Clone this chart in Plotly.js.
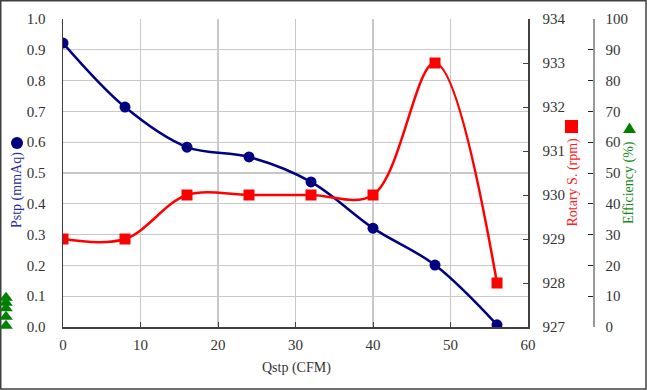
<!DOCTYPE html>
<html>
<head>
<meta charset="utf-8">
<script src="https://cdn.plot.ly/plotly-3.0.1.min.js"></script>
<style>html,body{margin:0;padding:0;background:#fff;}#chart{width:647px;height:390px;}</style>
</head>
<body>
<div id="chart"></div>
<script>
// Data
const qstp = [0, 8, 16, 24, 32, 40, 48, 56];
const pstp = [0.922, 0.714, 0.584, 0.552, 0.471, 0.321, 0.201, 0.007];
const rotary = [929, 929, 930, 930, 930, 930, 933, 928];
// stray efficiency markers drawn in the left margin (helper x axis in pixel units)
const effX = [6, 6, 6, 6, 6];
const efficiency = [9.5, 7.9, 6.1, 3.3, 0.4];

const xTitle = 'Qstp (CFM)';
const y1Title = 'Pstp (mmAq)';
const y2Title = 'Rotary S. (rpm)';
const y3Title = 'Efficiency (%)';

// layout geometry (pixels)
const W = 647, H = 390, L = 0, R = 54, T = 19, B = 63;
const PLOT_L = 63, PLOT_R = 528;
const PW = W - L - R, PH = H - T - B;
const px = v => (v - L) / PW;
const py = v => (H - B - v) / PH;

const serif = 'Liberation Serif';
const navy = '#000080', red = '#ff0000', green = '#008000';

const traces = [
  {x: qstp, y: pstp, type: 'scatter', mode: 'lines+markers', xaxis: 'x', yaxis: 'y',
   line: {color: navy, width: 2.5, shape: 'spline', smoothing: 1},
   marker: {color: navy, size: 11, symbol: 'circle'}},
  {x: qstp, y: rotary, type: 'scatter', mode: 'lines+markers', xaxis: 'x', yaxis: 'y2',
   line: {color: red, width: 2.5, shape: 'spline', smoothing: 1},
   marker: {color: red, size: 11, symbol: 'square'}},
  {x: effX, y: efficiency, type: 'scatter', mode: 'markers', xaxis: 'x3', yaxis: 'y3', cliponaxis: false,
   marker: {color: green, size: 12, symbol: 'triangle-up'}}
];

const tickFont = {family: serif, size: 15, color: '#333'};
const layout = {
  width: W, height: H,
  margin: {l: L, r: R, t: T, b: B, pad: 0},
  paper_bgcolor: '#fff', plot_bgcolor: 'rgba(0,0,0,0)',
  showlegend: false,
  font: {family: serif},
  xaxis: {domain: [px(PLOT_L), px(PLOT_R)], range: [0, 60], dtick: 10, tick0: 0,
    showgrid: true, gridcolor: '#c8c8c8', gridwidth: 1.3,
    showline: true, linecolor: '#404040', linewidth: 1.5,
    ticks: 'inside', ticklen: 5, tickcolor: '#404040',
    tickfont: tickFont, zeroline: false, ticklabelstandoff: 3},
  yaxis: {range: [0, 1], dtick: 0.1, tick0: 0, tickformat: '.1f',
    showgrid: true, gridcolor: '#c8c8c8', gridwidth: 1.3,
    showline: true, linecolor: '#404040', linewidth: 1.5,
    ticks: '', tickfont: tickFont, zeroline: false, ticklabelstandoff: 13},
  yaxis2: {overlaying: 'y', side: 'right', anchor: 'x', range: [927, 934], dtick: 1,
    showgrid: false, showline: true, linecolor: '#404040', linewidth: 1.5,
    ticks: 'inside', ticklen: 5, tickcolor: '#404040',
    tickfont: tickFont, zeroline: false, ticklabelstandoff: 10},
  xaxis3: {domain: [0, 1], range: [0, PW], visible: false, fixedrange: true},
  yaxis3: {anchor: 'x3', side: 'right', domain: [0, 1], range: [0, 100], dtick: 10,
    showgrid: false, showline: true, linecolor: '#999', linewidth: 1.5,
    ticks: 'inside', ticklen: 5, tickcolor: '#222',
    tickfont: tickFont, zeroline: false, ticklabelstandoff: 8},
  annotations: [
    {text: xTitle, xref: 'paper', yref: 'paper', x: px(296.5), y: py(368), showarrow: false,
     font: {family: serif, size: 14, color: '#333'}, xanchor: 'center', yanchor: 'middle'},
    {text: y1Title, xref: 'paper', yref: 'paper', x: px(17), y: py(190), showarrow: false, textangle: -90,
     font: {family: serif, size: 14, color: '#2b2b9b'}, xanchor: 'center', yanchor: 'middle'},
    {text: y2Title, xref: 'paper', yref: 'paper', x: px(572.5), y: py(182), showarrow: false, textangle: -90,
     font: {family: serif, size: 14, color: '#ff2020'}, xanchor: 'center', yanchor: 'middle'},
    {text: y3Title, xref: 'paper', yref: 'paper', x: px(629), y: py(183), showarrow: false, textangle: -90,
     font: {family: serif, size: 14, color: '#1a8a1a'}, xanchor: 'center', yanchor: 'middle'}
  ],
  shapes: [
    {type: 'rect', xref: 'paper', yref: 'paper', x0: px(0.75), x1: px(646), y0: py(0.75), y1: py(389),
     line: {color: '#404040', width: 1.5}, fillcolor: 'rgba(0,0,0,0)', layer: 'below'},
    {type: 'circle', xref: 'paper', yref: 'paper', xsizemode: 'pixel', ysizemode: 'pixel',
     xanchor: px(17), yanchor: py(143), x0: -6, x1: 6, y0: -6, y1: 6,
     fillcolor: navy, line: {width: 0}},
    {type: 'rect', xref: 'paper', yref: 'paper', xsizemode: 'pixel', ysizemode: 'pixel',
     xanchor: px(571.5), yanchor: py(126.5), x0: -6.5, x1: 6.5, y0: -6.5, y1: 6.5,
     fillcolor: red, line: {width: 0}},
    {type: 'path', xref: 'paper', yref: 'paper', xsizemode: 'pixel', ysizemode: 'pixel',
     xanchor: px(629.5), yanchor: py(128), path: 'M -6.5 -5 L 6.5 -5 L 0 5.5 Z',
     fillcolor: green, line: {width: 0}}
  ]
};

Plotly.newPlot('chart', traces, layout, {staticPlot: true, displayModeBar: false});
</script>
</body>
</html>
